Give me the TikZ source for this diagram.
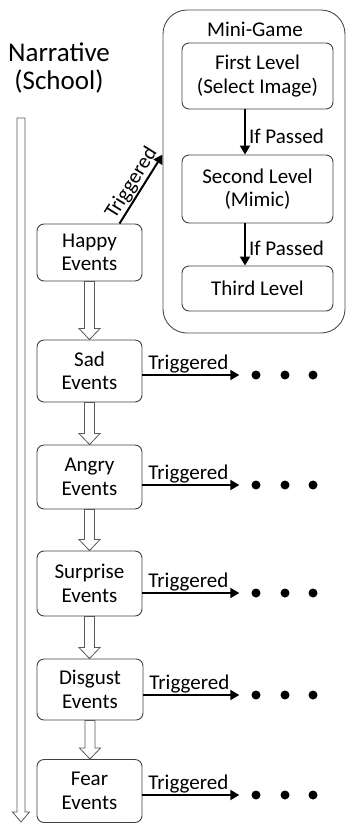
\documentclass[tikz,border=0pt]{standalone}
\usepackage{fontspec}
\setmainfont{Carlito}
\usetikzlibrary{calc,arrows.meta}
\newcommand{\hollowarrow}[2]{%
  \draw[hollow] let \p1=(#1.south), \p2=(#2.north) in
   (\x1-5pt,\y1) -- (\x1-5pt,\y2+11pt) -- (\x1-10.5pt,\y2+11pt) -- (\x1,\y2)
   -- (\x1+10.5pt,\y2+11pt) -- (\x1+5pt,\y2+11pt) -- (\x1+5pt,\y1) -- cycle;}
\begin{document}
\begin{tikzpicture}[x=1pt,y=-1pt,
  box/.style={draw=black!75, line width=0.9pt, rounded corners=7pt, fill=white,
    align=center, font=\fontsize{21}{23.5}\selectfont, inner sep=0pt},
  evbox/.style={box, minimum width=105pt, minimum height=62pt},
  lvbox/.style={box, minimum width=151pt},
  trig/.style={-{Triangle[length=9pt,width=10pt]}, line width=2pt, black},
  lbl/.style={font=\fontsize{21}{23}\selectfont, inner sep=1pt},
  dot/.style={circle, fill=black, minimum size=9pt, inner sep=0pt},
  hollow/.style={draw=black!65, fill=white, line width=0.8pt, line join=miter}]
\useasboundingbox (0,0) rectangle (347,823);

% title
\node[align=center, font=\fontsize{27}{28}\selectfont, inner sep=0pt] (title) at (59,68) {Narrative\\(School)};

% long narrative arrow
\coordinate (ntop) at (21,118);
\coordinate (nbot) at (21,822);
\draw[hollow] let \p1=(ntop), \p2=(nbot) in
  (\x1-4pt,\y1) -- (\x1-4pt,\y2+10pt) -- (\x1-8.5pt,\y2+10pt) -- (\x1,\y2)
  -- (\x1+8.5pt,\y2+10pt) -- (\x1+4pt,\y2+10pt) -- (\x1+4pt,\y1) -- cycle;

% mini-game container
\node[draw=black!70, line width=0.9pt, rounded corners=24pt, minimum width=182pt,
  minimum height=323pt, inner sep=0pt] (mg) at (254,171.5) {};
\node[lbl] (mgl) at (255,29) {Mini-Game};
\node[lvbox, minimum height=66pt] (lv1) at (257.5,76) {First Level\\(Select Image)};
\node[lvbox, minimum height=68pt] (lv2) at (257.5,189) {Second Level\\(Mimic)};
\node[lvbox, minimum height=45pt] (lv3) at (257.5,288.5) {Third Level};
\draw[trig] ([xshift=-12.5pt]lv1.south) -- ([xshift=-12.5pt]lv2.north)
  node[lbl, pos=0.6, anchor=west, xshift=2pt] (ip1) {If Passed};
\draw[trig] ([xshift=-12.5pt]lv2.south) -- ([xshift=-12.5pt]lv3.north)
  node[lbl, pos=0.6, anchor=west, xshift=2pt] (ip2) {If Passed};

% events
\node[evbox, minimum height=57pt] (happy) at (89.5,252.5) {Happy\\Events};
\node[evbox] (sad) at (89.5,371) {Sad\\Events};
\node[evbox, minimum height=64pt] (angry) at (89.5,477) {Angry\\Events};
\node[evbox, minimum height=65pt] (surprise) at (89.5,583.5) {Surprise\\Events};
\node[evbox, minimum width=106pt, minimum height=61pt] (disgust) at (90,689.5) {Disgust\\Events};
\node[evbox, minimum height=63pt] (fear) at (89.5,791) {Fear\\Events};

\hollowarrow{happy}{sad}
\hollowarrow{sad}{angry}
\hollowarrow{angry}{surprise}
\hollowarrow{surprise}{disgust}
\hollowarrow{disgust}{fear}

% happy -> mini-game
\draw[trig] ([xshift=30pt]happy.north) -- (mg.west |- lv2.north)
  node[lbl, midway, sloped, above, yshift=0pt] (tg0) {Triggered};

% triggered arrows with dots
\foreach \n/\y in {sad/375, angry/485, surprise/593, disgust/695, fear/795}{
  \node[dot] (\n d1) at (256,\y) {};
  \node[dot] (\n d2) at (285,\y) {};
  \node[dot] (\n d3) at (313,\y) {};
  \draw[trig, shorten >=12pt] (\n.east |- \n d1) -- (\n d1)
    node[lbl, pos=0, anchor=south west, xshift=4pt, yshift=0pt] (\n t) {Triggered};
}
\end{tikzpicture}
\end{document}
